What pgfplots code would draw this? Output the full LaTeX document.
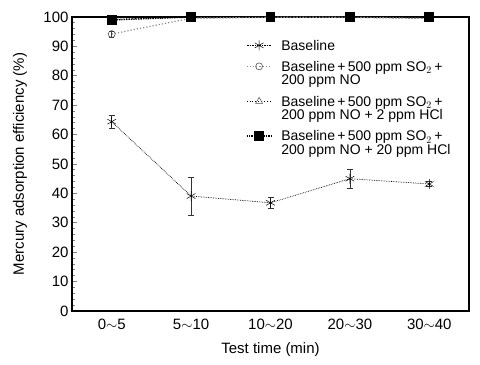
\documentclass[border=0pt]{standalone}
\usepackage{pgfplots}
\pgfplotsset{compat=1.18}
\usepackage{fontspec}
\setmainfont{Liberation Sans}
\newcommand{\lo}[1]{\raisebox{0pt}[9.5pt][0pt]{#1}}
\newcommand{\hi}[2]{\rule{0pt}{#1}#2}
\begin{document}
\begin{tikzpicture}
\begin{axis}[
  scale only axis,
  width=397pt, height=294pt,
  xmin=-0.5, xmax=4.5, ymin=0, ymax=100,
  xtick={0,1,2,3,4},
  xticklabels={0$\sim$5,5$\sim$10,10$\sim$20,20$\sim$30,30$\sim$40},
  extra x ticks={0.5,1.5,2.5,3.5},
  extra x tick labels={},
  extra x tick style={major tick length=5pt, tick style={line width=0.8pt}},
  x tick style={draw=none},
  ytick={0,10,...,100},
  minor y tick num=4,
  tick align=inside,
  xtick pos=bottom, ytick pos=left,
  major tick length=5pt, minor tick length=3pt,
  y tick style={line width=0.8pt},
  axis line style={line width=1.4pt},
  tick label style={font=\fontsize{15}{17}\selectfont},
  xticklabel style={yshift=-4pt},
  /pgf/number format/assume math mode=true,
  xlabel={Test time (min)},
  ylabel={Mercury adsorption efficiency (\%)},
  label style={font=\fontsize{15}{17}\selectfont},
  xlabel style={at={(rel axis cs:0.5,-0.133)}, anchor=center},
  ylabel style={at={(rel axis cs:-0.131,0.5)}, anchor=center},
  legend cell align=left,
  legend style={draw=none, fill=none, at={(rel axis cs:0.43,0.928)}, anchor=north west,
    font=\fontsize{14}{15}\selectfont, row sep=0pt, column sep=7pt,
    cells={anchor=base west},
    nodes={text depth=4pt, inner ysep=0pt}},
  legend image code/.code={
    \draw[mark repeat=2,mark phase=2,#1] plot coordinates {(0cm,5pt) (0.44cm,5pt) (0.88cm,5pt)};
  },
]
\addplot[black, densely dotted, line width=0.7pt, mark=asterisk, mark size=5pt, mark options={solid, line width=0.5pt},
  error bars/.cd, y dir=both, y explicit, error bar style={solid, line width=0.5pt, black!80}, error mark options={rotate=90, mark size=3pt}]
  coordinates {(0,64.4) +- (0,2.3) (1,39.1) +- (0,6.4) (2,36.8) +- (0,1.9) (3,45.0) +- (0,3.2) (4,43.2) +- (0,0.8)};
\addlegendentry{\lo{Baseline}}
\addplot[black!45, dotted, line width=1.2pt, mark=o, mark size=3.5pt, mark options={solid, black!75, line width=0.5pt},
  error bars/.cd, y dir=both, y explicit, error bar style={solid, line width=0.5pt, black!75}, error mark options={rotate=90, mark size=2.5pt}]
  coordinates {(0,94.2) +- (0,1.0) (1,99.6) +- (0,0.3) (2,99.9) +- (0,0.1) (3,99.9) +- (0,0.1) (4,99.5) +- (0,0.3)};
\addlegendentry{\hi{17pt}{Baseline\,+\,500 ppm SO$_2$\,+}}
\addlegendimage{empty legend}
\addlegendentry{\lo{200 ppm NO}}
\addplot[black, dotted, line width=0.9pt, mark=triangle, mark size=4pt, mark options={solid, black!70, line width=0.5pt}]
  coordinates {(0,99.2) (1,100) (2,100) (3,100) (4,100)};
\addlegendentry{\hi{17.5pt}{Baseline\,+\,500 ppm SO$_2$\,+}}
\addlegendimage{empty legend}
\addlegendentry{\lo{200 ppm NO + 2 ppm HCl}}
\addplot[black, densely dotted, line width=1.4pt, mark=square*, mark size=4.2pt, mark options={solid}]
  coordinates {(0,99.0) (1,100) (2,100) (3,100) (4,100)};
\addlegendentry{\hi{17pt}{Baseline\,+\,500 ppm SO$_2$\,+}}
\addlegendimage{empty legend}
\addlegendentry{\lo{200 ppm NO + 20 ppm HCl}}
\addplot[black!45, dotted, line width=1.2pt, forget plot] coordinates {(1,99.6) (2,99.9) (3,99.9) (4,99.5)};
\end{axis}
\pgfresetboundingbox
\path ([xshift=-72pt,yshift=-53pt]current axis.south west) rectangle ([xshift=11pt,yshift=17pt]current axis.north east);
\end{tikzpicture}
\end{document}
